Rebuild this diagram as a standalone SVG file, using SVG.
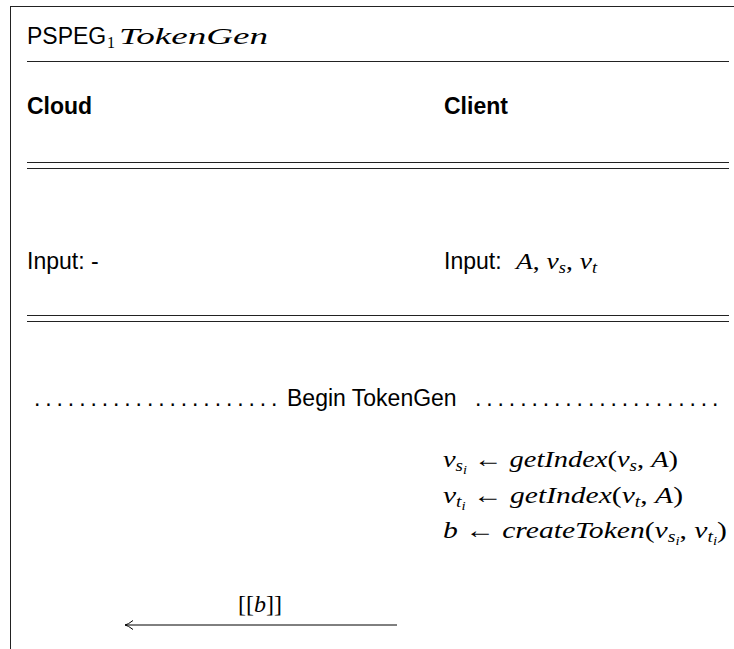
<svg xmlns="http://www.w3.org/2000/svg" width="734" height="649" viewBox="0 0 734 649">
<style>
.sans{font-family:"Liberation Sans",Arial,sans-serif;font-size:23px;fill:#000}
.bold{font-weight:bold}
.math{font-family:"Liberation Serif","Times New Roman",serif;font-size:24px;fill:#000}
.it{font-style:italic}
.rule{stroke:#222;stroke-width:1;fill:none}
.dots{font-family:"Liberation Sans",Arial,sans-serif;font-size:23px;letter-spacing:4.9px;fill:#000}
</style>
<defs>
<marker id="lah" markerUnits="userSpaceOnUse" markerWidth="12" markerHeight="12" refX="9" refY="6" orient="auto" overflow="visible">
<path d="M1,1.5 Q6,5.5 9,6 Q6,6.5 1,10.5" fill="none" stroke="#000" stroke-width="1"/>
</marker>
</defs>
<rect width="734" height="649" fill="#fff"/>
<g id="frame">
<line class="rule" x1="10" y1="6.5" x2="734" y2="6.5"/>
<line class="rule" x1="10.5" y1="6" x2="10.5" y2="649"/>
<line class="rule" x1="27" y1="61.5" x2="729" y2="61.5"/>
<line class="rule" x1="27" y1="162.5" x2="729" y2="162.5"/>
<line class="rule" x1="27" y1="168.5" x2="729" y2="168.5"/>
<line class="rule" x1="27" y1="315.5" x2="729" y2="315.5"/>
<line class="rule" x1="27" y1="321.5" x2="729" y2="321.5"/>
</g>
<g id="title">
<text class="sans" x="27" y="44">PSPEG</text>
<text class="math" x="107" y="48" style="font-size:16px">1</text>
<text class="math it" x="119" y="44" textLength="149" lengthAdjust="spacingAndGlyphs">TokenGen</text>
</g>
<g id="cloud">
<text class="sans bold" x="27" y="114">Cloud</text>
<text class="sans" x="27" y="269">Input: -</text>
</g>
<g id="client">
<text class="sans bold" x="444" y="114">Client</text>
<text class="sans" x="444" y="269">Input:</text>
<text class="math" x="516" y="269" textLength="81" lengthAdjust="spacingAndGlyphs"><tspan class="it">A</tspan>, <tspan class="it">v</tspan><tspan class="it" dy="4" style="font-size:16px">s</tspan><tspan dy="-4">, </tspan><tspan class="it">v</tspan><tspan class="it" dy="4" style="font-size:16px">t</tspan></text>
</g>
<g id="begin">
<text class="dots" x="34" y="406">......................</text>
<text class="sans" x="287" y="406">Begin TokenGen</text>
<text class="dots" x="475" y="406">......................</text>
</g>
<g id="client-steps">
<text class="math" x="443" y="467" textLength="235" lengthAdjust="spacingAndGlyphs"><tspan class="it">v</tspan><tspan class="it" dy="4" style="font-size:16px">s</tspan><tspan class="it" dy="3" style="font-size:12px">i</tspan><tspan dy="-7"> ← </tspan><tspan class="it">getIndex</tspan>(<tspan class="it">v</tspan><tspan class="it" dy="4" style="font-size:16px">s</tspan><tspan dy="-4">, </tspan><tspan class="it">A</tspan>)</text>
<text class="math" x="443" y="503" textLength="240" lengthAdjust="spacingAndGlyphs"><tspan class="it">v</tspan><tspan class="it" dy="4" style="font-size:16px">t</tspan><tspan class="it" dy="3" style="font-size:12px">i</tspan><tspan dy="-7"> ← </tspan><tspan class="it">getIndex</tspan>(<tspan class="it">v</tspan><tspan class="it" dy="4" style="font-size:16px">t</tspan><tspan dy="-4">, </tspan><tspan class="it">A</tspan>)</text>
<text class="math" x="443" y="538" textLength="284" lengthAdjust="spacingAndGlyphs"><tspan class="it">b</tspan> ← <tspan class="it">createToken</tspan>(<tspan class="it">v</tspan><tspan class="it" dy="4" style="font-size:16px">s</tspan><tspan class="it" dy="3" style="font-size:12px">i</tspan><tspan dy="-7">, </tspan><tspan class="it">v</tspan><tspan class="it" dy="4" style="font-size:16px">t</tspan><tspan class="it" dy="3" style="font-size:12px">i</tspan><tspan dy="-7">)</tspan></text>
</g>
<g id="connectors">
<line x1="397" y1="625" x2="125" y2="625" stroke="#000" stroke-width="1" marker-end="url(#lah)"/>
<text class="math" x="260" y="612" text-anchor="middle">[[<tspan class="it">b</tspan>]]</text>
</g>
</svg>
